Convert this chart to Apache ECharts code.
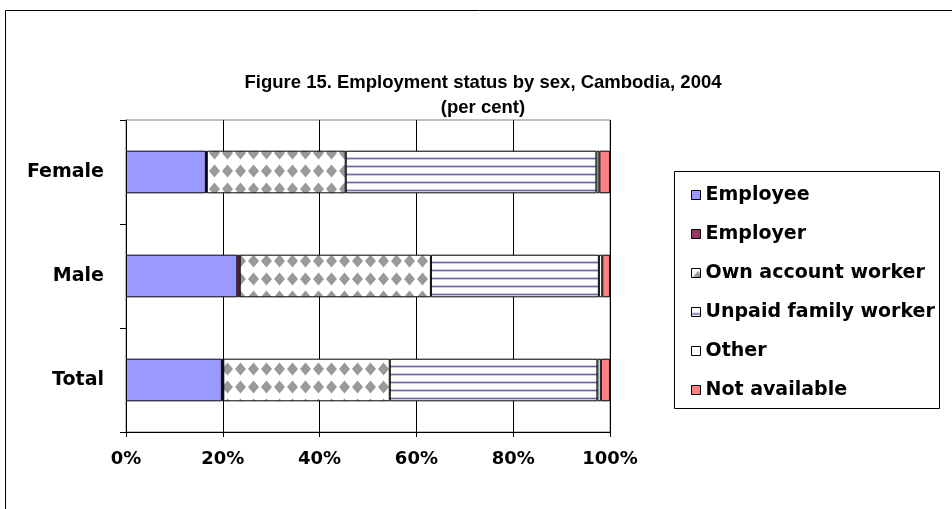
<!DOCTYPE html>
<html>
<head>
<meta charset="utf-8">
<script src="https://cdn.jsdelivr.net/npm/echarts@6/dist/echarts.min.js"></script>
<style>
  html, body { margin: 0; padding: 0; background: #fff; }
  #chart { width: 952px; height: 509px; }
</style>
</head>
<body>
<div id="chart"></div>
<script>
// 데이터 (그림에서 읽은 값, %)
const categories = ["Female", "Male", "Total"];
const seriesNames = ["Employee", "Employer", "Own account worker", "Unpaid family worker", "Other", "Not available"];
const employee = [16.5, 23.0, 19.8];
const employer = [0.2, 0.5, 0.3];
const ownAccount = [28.7, 39.5, 34.4];
const unpaidFamily = [51.8, 34.7, 42.9];
const other = [0.6, 0.7, 0.7];
const notAvailable = [2.2, 1.6, 1.9];
const xTicks = [0, 20, 40, 60, 80, 100];

const titleFont = "'Liberation Sans', Arial, sans-serif";
const font = "'DejaVu Sans', sans-serif";

// 회색 다이아몬드 무늬
const makeDiamond = () => {
  const c = document.createElement("canvas");
  c.width = 13;
  c.height = 18;
  const ctx = c.getContext("2d");
  ctx.fillStyle = "#ffffff";
  ctx.fillRect(0, 0, 13, 18);
  ctx.fillStyle = "#999999";
  ctx.beginPath();
  ctx.moveTo(6.5, 2.5);
  ctx.lineTo(12, 9);
  ctx.lineTo(6.5, 15.5);
  ctx.lineTo(1, 9);
  ctx.closePath();
  ctx.fill();
  return c;
};

// 가로 줄무늬
const makeStripes = () => {
  const c = document.createElement("canvas");
  c.width = 8;
  c.height = 8;
  const ctx = c.getContext("2d");
  ctx.fillStyle = "#ffffff";
  ctx.fillRect(0, 0, 8, 8);
  ctx.fillStyle = "#c8c8e6";
  ctx.fillRect(0, 5, 8, 1);
  ctx.fillRect(0, 7, 8, 1);
  ctx.fillStyle = "#6a6a9c";
  ctx.fillRect(0, 6, 8, 1);
  return c;
};

const colors = [
  "#9999ff",
  "#993366",
  { image: makeDiamond(), repeat: "repeat" },
  { image: makeStripes(), repeat: "repeat" },
  "#ffffff",
  "#ff8080",
];
const values = [employee, employer, ownAccount, unpaidFamily, other, notAvailable];

const series = seriesNames.map((name, i) => ({
  name: name,
  type: "bar",
  stack: "all",
  barWidth: "41%",
  animation: false,
  data: values[i],
  itemStyle: {
    color: colors[i],
    borderColor: "#000000",
    borderWidth: 1,
  },
}));

const chart = echarts.init(document.getElementById("chart"), null, { renderer: "canvas" });

chart.setOption({
  backgroundColor: "#ffffff",
  animation: false,
  title: {
    text: "Figure 15. Employment status by sex, Cambodia, 2004\n(per cent)",
    left: 478,
    textAlign: "center",
    top: 65,
    textStyle: {
      fontFamily: titleFont,
      fontWeight: "bold",
      fontSize: 18.5,
      lineHeight: 25,
      color: "#000000",
    },
  },
  grid: {
    show: true,
    backgroundColor: "transparent",
    borderColor: "#808080",
    borderWidth: 1,
    left: 126,
    right: 342,
    top: 120,
    bottom: 77,
    containLabel: false,
  },
  legend: {
    orient: "vertical",
    left: 686,
    top: 180,
    itemWidth: 9,
    itemHeight: 9,
    itemGap: 19,
    icon: "rect",
    itemStyle: { borderColor: "#000000", borderWidth: 1 },
    textStyle: {
      fontFamily: font,
      fontWeight: "bold",
      fontSize: 19,
      lineHeight: 20,
      color: "#000000",
      padding: [0, 0, 0, 0],
    },
    data: seriesNames,
  },
  xAxis: {
    type: "value",
    min: 0,
    max: 100,
    interval: 20,
    axisLine: { show: true, lineStyle: { color: "#000000", width: 1 } },
    axisTick: { show: true, length: 5, lineStyle: { color: "#000000" } },
    splitLine: { show: true, lineStyle: { color: "#000000", width: 1 } },
    axisLabel: {
      margin: 18,
      fontFamily: font,
      fontWeight: "bold",
      fontSize: 18,
      color: "#000000",
      formatter: (v) => (xTicks.includes(v) ? v + "%" : ""),
    },
  },
  yAxis: {
    type: "category",
    inverse: true,
    data: categories,
    axisLine: { show: true, lineStyle: { color: "#000000", width: 1 } },
    axisTick: { show: true, length: 6, lineStyle: { color: "#000000" } },
    axisLabel: {
      margin: 22,
      fontFamily: font,
      fontWeight: "bold",
      fontSize: 19,
      color: "#000000",
    },
  },
  graphic: [
    {
      type: "rect",
      shape: { x: 5.5, y: 10.5, width: 1000, height: 600 },
      style: { fill: null, stroke: "#000000", lineWidth: 1 },
      silent: true,
    },
    {
      type: "rect",
      shape: { x: 674.5, y: 171.5, width: 265, height: 237 },
      style: { fill: null, stroke: "#000000", lineWidth: 1 },
      silent: true,
    },
  ],
  series: series,
});
</script>
</body>
</html>
